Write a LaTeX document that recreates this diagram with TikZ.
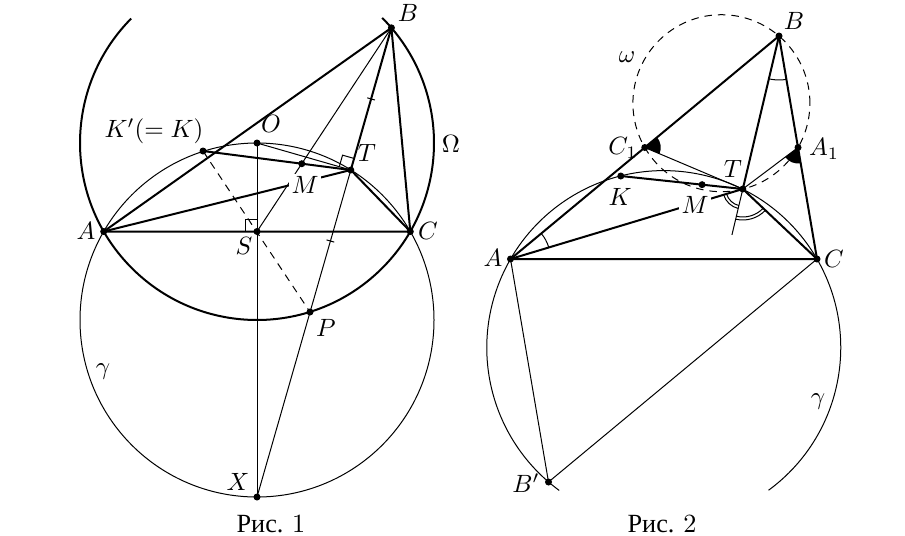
\documentclass[tikz,border=0pt]{standalone}
\usepackage{fontspec}
\newfontfamily\capfont{Liberation Serif}
\usetikzlibrary{calc,angles}
\begin{document}
\begin{tikzpicture}[x=0.4pt,y=0.4pt,
  thk/.style={line width=0.8pt},
  thn/.style={line width=0.4pt},
  dsh/.style={dash pattern=on 3pt off 2.4pt},
  dot/.style={circle, fill=black, inner sep=0pt, minimum size=2.8pt},
  lbl/.style={inner sep=0pt},
  wlbl/.style={fill=white, inner sep=1pt},
  captext/.style={inner sep=0pt, font=\fontsize{10.5}{12}\selectfont}]
\useasboundingbox (0,0) rectangle (905,-535);
% ---------------- Figure 1 ----------------
\coordinate (pO) at (257,-143);
\coordinate (pG) at (257,-320);
\coordinate (pA) at (103.7,-231.5);
\coordinate (pC) at (410.3,-231.5);
\coordinate (pS) at (257,-231.5);
\coordinate (pX) at (257,-497);
\coordinate (pB) at (391.4,-27.8);
\coordinate (pT) at (350.8,-170);
\coordinate (pK) at (203,-151);
\coordinate (pP) at (310,-312);
\coordinate (pM) at (intersection of pS--pB and pK--pT);
\draw[thn] (pG) circle[radius=177];
\draw[thk] (pO) ++(135.3:177) arc[start angle=135.3, end angle=405, radius=177];
\draw[thn] (pO) -- (pX);
\draw[thn] (pS) -- (pB);
\draw[thn] (pO) -- (pT);
\draw[thn] (pT) -- (pX);
\draw[thn,dsh] (pK) -- (pP);
\draw[thk,line join=round] (pA) -- (pB) -- (pC) -- cycle;
\draw[thk,line join=round] (pB) -- (pT) -- (pC);
\draw[thk] (pK) -- (pT);
\draw[thk] (pA) -- (pT);
% right angles
\draw[thn] ($(pS)+(-12,0)$) -- ++(0,12) -- ++(12,0);
\coordinate (t1) at ($(pT)!4.8pt!(pO)$);
\coordinate (t2) at ($(pT)!4.8pt!(pB)$);
\draw[thn] (t1) -- ($(t1)+(t2)-(pT)$) -- (t2);
% ticks
\coordinate (m1) at ($(pB)!0.5!(pT)$);
\coordinate (m2) at ($(pT)!0.5!(pP)$);
\draw[thn] ($(m1)!1.6pt!90:(pT)$) -- ($(m1)!1.6pt!-90:(pT)$);
\draw[thn] ($(m2)!1.6pt!90:(pP)$) -- ($(m2)!1.6pt!-90:(pP)$);
% dots
\foreach \p in {pA,pB,pC,pO,pS,pT,pK,pP,pX,pM} \node[dot] (d\p) at (\p) {};
% labels
\node[lbl] (lpB) at (408,-13) {$B$};
\node[lbl] (lpO) at (271,-124) {$O$};
\node[lbl] (lpK) at (154,-131) {$K'(=K)$};
\node[lbl] (lpT) at (367,-153) {$T$};
\node[lbl] (lpW) at (451,-144) {$\Omega$};
\node[wlbl] (lpM) at (305,-185) {$M$};
\node[lbl] (lpA) at (86,-231) {$A$};
\node[lbl] (lpS) at (244,-246) {$S$};
\node[lbl] (lpC) at (428,-231) {$C$};
\node[lbl] (lpP) at (326,-328) {$P$};
\node[lbl] (lpG) at (103,-372) {$\gamma$};
\node[lbl] (lpX) at (238,-482) {$X$};
\node[captext] (cap1) at (271,-524) {{\capfont Рис.}~1};
% ---------------- Figure 2 ----------------
\coordinate (qA) at (510.5,-259);
\coordinate (qC) at (817,-259);
\coordinate (qB) at (779,-36);
\coordinate (qG) at (663.75,-347.6);
\coordinate (qW) at (721.4,-103.2);
\coordinate (qC1) at ($(qA)!0.5!(qB)$);
\coordinate (qA1) at ($(qB)!0.5!(qC)$);
\coordinate (qT) at (742.8,-189);
\coordinate (qK) at (620.8,-176);
\coordinate (qM) at ($(qK)!0.666!(qT)$);
\coordinate (qBp) at (548.5,-482);
\coordinate (qE) at ($(qB)!1.3!(qT)$);
\draw[thn] (qG) ++(-53.7:177) arc[start angle=-53.7, end angle=233.8, radius=177];
\draw[thn,dsh] (qW) circle[radius=88.5];
\draw[thn] (qA) -- (qBp) -- (qC);
\draw[thn] (qC1) -- (qT) -- (qA1);
\draw[thn] (qT) -- (qE);
\draw[thk,line join=round] (qA) -- (qB) -- (qC) -- cycle;
\draw[thk,line join=round] (qB) -- (qT) -- (qC);
\draw[thk] (qK) -- (qT);
\draw[thk] (qA) -- (qT);
% angle marks
\pic[draw, thn, angle radius=16pt] {angle = qT--qA--qB};
\pic[draw, thn, angle radius=17.6pt] {angle = qT--qB--qC};
\pic[draw, thn, angle radius=6.8pt] {angle = qA--qT--qE};
\pic[draw, thn, angle radius=8pt] {angle = qA--qT--qE};
\pic[draw, thn, angle radius=11.2pt] {angle = qE--qT--qC};
\pic[draw, thn, angle radius=12.4pt] {angle = qE--qT--qC};
\pic[fill=black, angle radius=6.4pt] {angle = qT--qC1--qB};
\pic[fill=black, angle radius=6.4pt] {angle = qT--qA1--qC};
% dots
\foreach \p in {qA,qB,qC,qC1,qA1,qT,qK,qM,qBp} \node[dot] (d\p) at (\p) {};
% labels
\node[lbl] (lqB) at (794,-21) {$B$};
\node[lbl] (lqW) at (627,-57) {$\omega$};
\node[lbl] (lqC1) at (623,-148) {$C_1$};
\node[lbl] (lqA1) at (824,-149) {$A_1$};
\node[lbl] (lqT) at (733,-169) {$T$};
\node[lbl] (lqK) at (620,-197) {$K$};
\node[wlbl] (lqM) at (695,-205) {$M$};
\node[lbl] (lqA) at (493,-258) {$A$};
\node[lbl] (lqC) at (834,-259) {$C$};
\node[lbl] (lqG) at (818,-402) {$\gamma$};
\node[lbl] (lqBp) at (526,-483) {$B'$};
\node[captext] (cap2) at (662,-524) {{\capfont Рис.}~2};
\end{tikzpicture}
\end{document}
